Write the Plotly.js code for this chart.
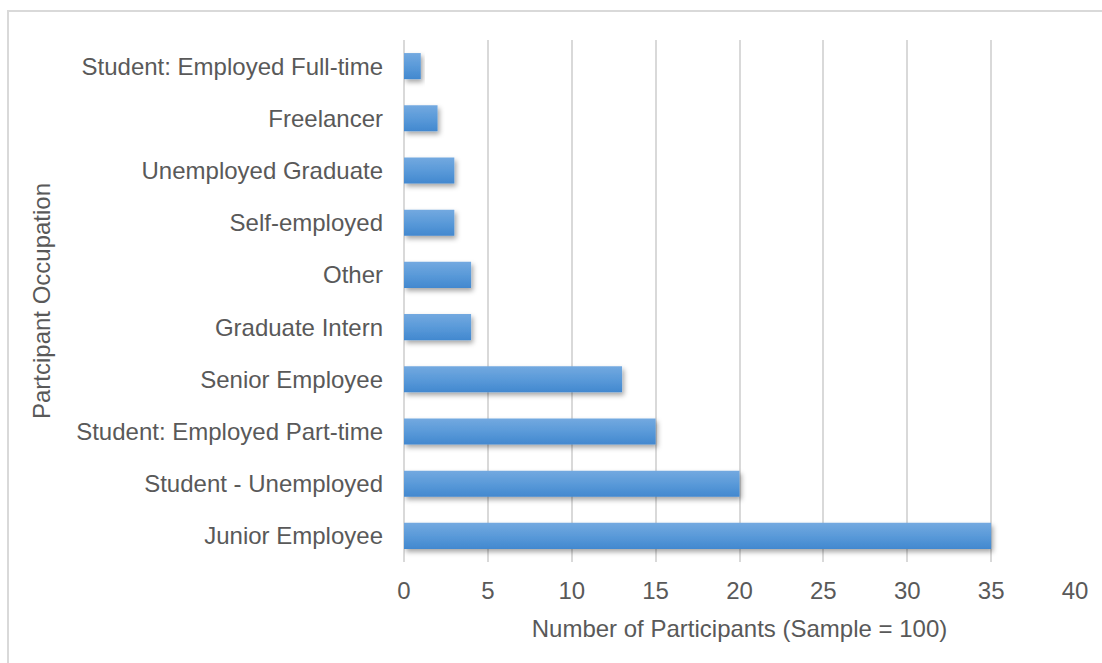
<!DOCTYPE html>
<html>
<head>
<meta charset="utf-8">
<script src="https://cdn.plot.ly/plotly-3.0.1.min.js"></script>
<style>
  html, body { margin: 0; padding: 0; background: #fff; }
  #wrap { position: relative; width: 1102px; height: 663px; overflow: hidden; }
  #chart { width: 1102px; height: 663px; }
  #frame { position: absolute; left: 7px; top: 10px; width: 1200px; height: 800px;
           border-top: 2px solid #d9d9d9; border-left: 2px solid #d9d9d9; pointer-events: none; }
</style>
</head>
<body>
<div id="wrap">
  <div id="chart"></div>
  <div id="frame"></div>
</div>
<script>
const occupations = [
  "Junior Employee",
  "Student - Unemployed",
  "Student: Employed Part-time",
  "Senior Employee",
  "Graduate Intern",
  "Other",
  "Self-employed",
  "Unemployed Graduate",
  "Freelancer",
  "Student: Employed Full-time"
];
const participants = [35, 20, 15, 13, 4, 4, 3, 3, 2, 1];
const xTicks = [0, 5, 10, 15, 20, 25, 30, 35, 40];

const textColor = '#595959';
const fontFamily = '"Liberation Sans", Arial, sans-serif';
const fs = 24;

const data = [{
  type: 'bar',
  orientation: 'h',
  y: occupations,
  x: participants,
  marker: { color: '#5b9bd5', line: { width: 0 } },
  hoverinfo: 'x+y'
}];

const layout = {
  width: 1102,
  height: 663,
  margin: { l: 404, r: 27, t: 40, b: 101 },
  paper_bgcolor: '#ffffff',
  plot_bgcolor: '#ffffff',
  bargap: 0.5,
  showlegend: false,
  font: { family: fontFamily, size: fs, color: textColor },
  xaxis: {
    range: [0, 40],
    tickvals: xTicks,
    ticktext: xTicks.map(String),
    showgrid: true,
    gridcolor: '#d9d9d9',
    gridwidth: 2,
    zeroline: true,
    zerolinecolor: '#d9d9d9',
    zerolinewidth: 2,
    showline: false,
    ticks: '',
    ticklabelstandoff: 12,
    tickfont: { size: fs, color: textColor },
    title: { text: 'Number of Participants (Sample = 100)', font: { size: fs, color: textColor }, standoff: 17 },
    fixedrange: true
  },
  yaxis: {
    type: 'category',
    categoryorder: 'array',
    categoryarray: occupations,
    showgrid: false,
    zeroline: false,
    showline: false,
    ticks: '',
    ticklabelstandoff: 20,
    tickfont: { size: fs, color: textColor },
    title: { text: 'Partcipant Occupation', font: { size: fs, color: textColor }, standoff: 18 },
    fixedrange: true
  }
};

Plotly.newPlot('chart', data, layout, { displayModeBar: false, staticPlot: true }).then(function (gd) {
  const svg = gd.querySelector('svg.main-svg');
  const NS = 'http://www.w3.org/2000/svg';
  let defs = svg.querySelector('defs');
  if (!defs) { defs = document.createElementNS(NS, 'defs'); svg.insertBefore(defs, svg.firstChild); }
  const grad = document.createElementNS(NS, 'linearGradient');
  grad.setAttribute('id', 'barGrad');
  grad.setAttribute('x1', '0'); grad.setAttribute('y1', '0');
  grad.setAttribute('x2', '0'); grad.setAttribute('y2', '1');
  [['0', '#73a9e0'], ['0.5', '#5a9ad9'], ['1', '#4288cf']].forEach(function (s) {
    const st = document.createElementNS(NS, 'stop');
    st.setAttribute('offset', s[0]);
    st.setAttribute('stop-color', s[1]);
    grad.appendChild(st);
  });
  defs.appendChild(grad);
  const filt = document.createElementNS(NS, 'filter');
  filt.setAttribute('id', 'barShadow');
  filt.setAttribute('x', '-10%'); filt.setAttribute('y', '-30%');
  filt.setAttribute('width', '130%'); filt.setAttribute('height', '180%');
  const ds = document.createElementNS(NS, 'feDropShadow');
  ds.setAttribute('dx', '2'); ds.setAttribute('dy', '3');
  ds.setAttribute('stdDeviation', '2.5');
  ds.setAttribute('flood-color', '#000');
  ds.setAttribute('flood-opacity', '0.35');
  filt.appendChild(ds);
  defs.appendChild(filt);
  gd.querySelectorAll('.barlayer .bars path').forEach(function (p) {
    p.style.fill = 'url(#barGrad)';
    p.setAttribute('filter', 'url(#barShadow)');
  });
  gd.querySelectorAll('.barlayer .trace').forEach(function (t) {
    t.removeAttribute('clip-path');
  });
});
</script>
</body>
</html>
